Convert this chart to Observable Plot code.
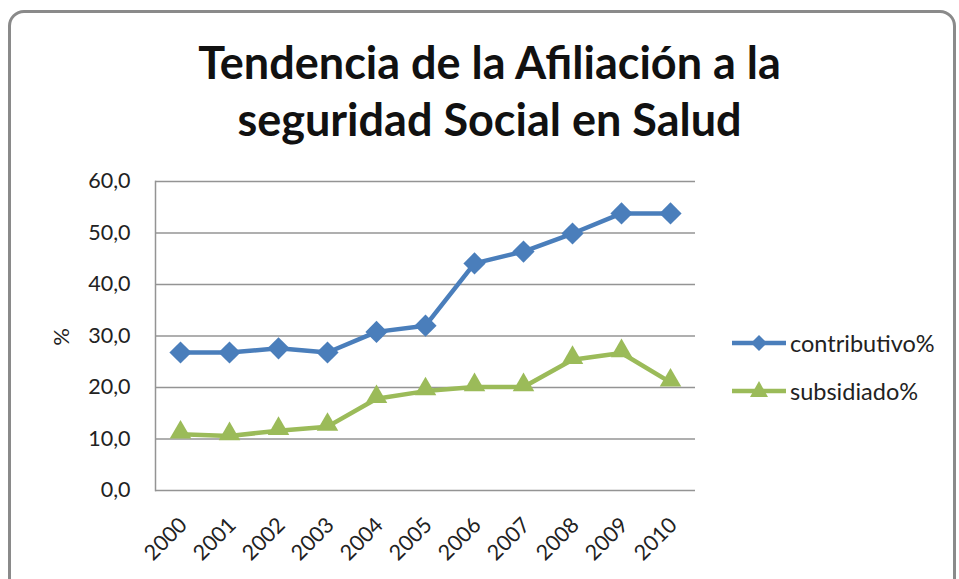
<!DOCTYPE html>
<html><head><meta charset="utf-8">
<script src="https://cdn.jsdelivr.net/npm/d3@7"></script>
<script src="https://cdn.jsdelivr.net/npm/@observablehq/plot@0.6"></script>
<style>
body{margin:0;background:#fff;font-family:Lato,"Open Sans",sans-serif;}
#wrap{position:relative;width:959px;height:579px;overflow:hidden;}
#frame{position:absolute;left:8px;top:10px;width:942px;height:620px;border:3px solid #8a8a8a;border-radius:16px;}
#title{position:absolute;left:10px;top:34px;width:959px;text-align:center;font-weight:bold;font-size:45px;line-height:57px;color:#111;}
#chart{position:absolute;left:0;top:0;}
#ylab{position:absolute;left:60px;top:337px;transform:translate(-50%,-50%) rotate(-90deg);font-size:22px;color:#222;}
#legend{position:absolute;left:729px;top:319px;font-size:23.5px;color:#222;}
.li{height:48px;display:flex;align-items:center;}
</style></head>
<body><div id="wrap"><div id="frame"></div>
<div id="title">Tendencia de la Afiliación a la<br>seguridad Social en Salud</div>
<div id="chart"></div>
<div id="ylab">%</div>
<div id="legend"></div></div>
<script>
const years = ["2000","2001","2002","2003","2004","2005","2006","2007","2008","2009","2010"];
const contributivo = [26.8, 26.8, 27.6, 26.8, 30.8, 32.0, 44.1, 46.4, 49.9, 53.8, 53.8];
const subsidiado = [10.9, 10.6, 11.6, 12.4, 17.8, 19.3, 20.1, 20.1, 25.4, 26.7, 21.0];
const yTicks = [0, 10, 20, 30, 40, 50, 60];
const seriesNames = ["contributivo%", "subsidiado%"];
const colors = ["#4a7ebb", "#9bbb59"];

const rows = [];
years.forEach((y, i) => {
  rows.push({year: y, value: contributivo[i], s: seriesNames[0]});
  rows.push({year: y, value: subsidiado[i], s: seriesNames[1]});
});
const fmt = d => d.toFixed(1).replace(".", ",");

const plot = Plot.plot({
  width: 959, height: 579,
  marginLeft: 155, marginRight: 264, marginTop: 181, marginBottom: 89,
  style: {fontFamily: "Lato, 'Open Sans', sans-serif", fontSize: "21.5px", color: "#222", background: "transparent"},
  x: {type: "point", domain: years, padding: 0.5, label: null},
  y: {domain: [0, 60], ticks: yTicks, label: null},
  color: {domain: seriesNames, range: colors},
  marks: [
    Plot.gridY(yTicks.filter(d => d > 0), {stroke: "#949494", strokeOpacity: 1, strokeWidth: 1.3}),
    Plot.ruleY([0], {stroke: "#949494", strokeWidth: 1.5}),
    Plot.frame({anchor: "left", stroke: "#949494", strokeWidth: 1.5}),
    Plot.axisY({ticks: yTicks, tickFormat: fmt, tickSize: 0, tickPadding: 25, fontSize: 21.5, label: null}),
    Plot.axisX({tickSize: 0, tickRotate: -45, tickPadding: 31, dx: 3, fontSize: 21.5, label: null}),
    Plot.line(rows, {x: "year", y: "value", stroke: "s", z: "s", strokeWidth: 4.5}),
    Plot.dot(rows.filter(d => d.s === seriesNames[0]), {x: "year", y: "value", symbol: "diamond2", r: 10, fill: colors[0], stroke: null}),
    Plot.dot(rows.filter(d => d.s === seriesNames[1]), {x: "year", y: "value", symbol: "triangle", r: 8, fill: colors[1], stroke: null, dy: -2})
  ]
});
document.getElementById("chart").appendChild(plot);

const legend = document.getElementById("legend");
seriesNames.forEach((n, i) => {
  const row = document.createElement("div");
  row.className = "li";
  const sym = i === 0
    ? `<path d="M30,7 L38,15 L30,23 L22,15 Z" fill="${colors[0]}"/>`
    : `<path d="M30,5 L39,21 L21,21 Z" fill="${colors[1]}"/>`;
  row.innerHTML = `<svg width="60" height="30"><line x1="3" x2="57" y1="15" y2="15" stroke="${colors[i]}" stroke-width="4.5"/>${sym}</svg><span style="margin-left:1px">${n}</span>`;
  legend.appendChild(row);
});
</script></body></html>
